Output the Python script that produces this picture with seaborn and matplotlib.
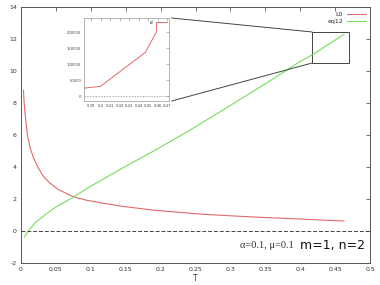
import numpy as np
import pandas as pd
import seaborn as sns
import matplotlib.pyplot as plt
from matplotlib.patches import Rectangle, ConnectionPatch

# data
t_l0 = [0.0035, 0.0045, 0.0057, 0.0075, 0.0096, 0.013, 0.0177, 0.024, 0.0315, 0.04,
        0.053, 0.0745, 0.094, 0.12, 0.142, 0.19, 0.256, 0.3, 0.35, 0.4, 0.463]
l0 = [8.8, 8.0, 7.4, 6.6, 5.9, 5.2, 4.6, 4.0, 3.45, 3.05,
      2.6, 2.15, 1.92, 1.72, 1.56, 1.3, 1.06, 0.95, 0.84, 0.75, 0.62]

t_eq = [0.0047, 0.0105, 0.02, 0.034, 0.05, 0.0745, 0.094, 0.12, 0.146, 0.19,
        0.242, 0.3, 0.35, 0.4, 0.417, 0.463]
eq12 = [-0.37, 0.0, 0.5, 1.0, 1.5, 2.1, 2.65, 3.3, 3.95, 5.0,
        6.3, 7.85, 9.2, 10.6, 11.0, 12.3]

t_f2 = [0.3826, 0.40, 0.447, 0.4584, 0.4588]
f2 = [25000, 31000, 137000, 200000, 230000]

x_ticks = [0, 0.05, 0.1, 0.15, 0.2, 0.25, 0.3, 0.35, 0.4, 0.45, 0.5]
x_labels = ["0", "0.05", "0.1", "0.15", "0.2", "0.25", "0.3", "0.35", "0.4", "0.45", "0.5"]
y_ticks = [-2, 0, 2, 4, 6, 8, 10, 12, 14]
ins_x_ticks = [0.39, 0.40, 0.41, 0.42, 0.43, 0.44, 0.45, 0.46, 0.47]
ins_x_labels = ["0.39", "0.4", "0.41", "0.42", "0.43", "0.44", "0.45", "0.46", "0.47"]
ins_y_ticks = [0, 50000, 100000, 150000, 200000]
zoom_box = (0.417, 0.470, 10.5, 12.44)

red = "#e06a6a"
green = "#74de5a"
frame = "#555555"

sns.set_style("white")
plt.rcParams["font.family"] = ["DejaVu Sans"]

fig = plt.figure(figsize=(3.8, 2.85), dpi=100)
ax = fig.add_axes([0.0553, 0.0772, 0.9184, 0.8982])

df_l0 = pd.DataFrame({"T": t_l0, "v": l0})
df_eq = pd.DataFrame({"T": t_eq, "v": eq12})
sns.lineplot(data=df_l0, x="T", y="v", ax=ax, color=red, lw=0.8, label="L0")
sns.lineplot(data=df_eq, x="T", y="v", ax=ax, color=green, lw=0.8, label="eq12")
ax.axhline(0, color="#444444", lw=0.7, ls=(0, (4, 2)))

ax.set_xlim(0, 0.5)
ax.set_ylim(-2, 14)
ax.set_xticks(x_ticks)
ax.set_xticklabels(x_labels)
ax.set_yticks(y_ticks)
ax.tick_params(direction="in", length=3, width=0.6, color=frame, labelsize=4.5,
               labelcolor="#333333", top=True, right=True, pad=3)
ax.set_yticklabels([str(v) for v in y_ticks])
for s in ax.spines.values():
    s.set_color(frame)
    s.set_linewidth(0.7)
ax.set_xlabel("T", fontsize=5.5, labelpad=1, color="#333333")
ax.set_ylabel("")

ax.legend(loc="upper right", frameon=False, fontsize=4.5, markerfirst=False,
          handlelength=3, handletextpad=0.6, labelspacing=0.3, borderaxespad=0.3)

ax.text(0.391, -0.9, "α=0.1, μ=0.1", family="Liberation Serif",
        fontsize=7.5, color="#333333", ha="right", va="center")
ax.text(0.4925, -0.9, "m=1, n=2", fontsize=9, color="#111111",
        ha="right", va="center")

# zoom box
x0, x1, y0, y1 = zoom_box
ax.add_patch(Rectangle((x0, y0), x1 - x0, y1 - y0, fill=False,
                       ec="#444444", lw=0.7))

# inset
axins = fig.add_axes([0.221, 0.6456, 0.224, 0.2912])
df_f2 = pd.DataFrame({"T": t_f2, "v": f2})
sns.lineplot(data=df_f2, x="T", y="v", ax=axins, color=red, lw=0.7, label="f2")
axins.axhline(0, color="#888888", lw=0.5, ls=(0, (2, 2)))
axins.set_xlim(0.3826, 0.4718)
axins.set_ylim(-15000, 244000)
axins.set_xticks(ins_x_ticks)
axins.set_xticklabels(ins_x_labels)
axins.set_yticks(ins_y_ticks)
axins.set_yticklabels([str(v) for v in ins_y_ticks])
axins.tick_params(direction="in", length=2, width=0.4, color="#888888",
                  labelsize=2.7, labelcolor="#444444", top=True, right=True, pad=2)
axins.set_xlabel("")
axins.set_ylabel("")
for s in axins.spines.values():
    s.set_color("#999999")
    s.set_linewidth(0.5)
axins.legend(loc="upper right", frameon=False, fontsize=3, markerfirst=False,
             handlelength=2.5, handletextpad=0.5, borderaxespad=0.2)

# connectors from inset to zoom box
for ya, yb in [(1.0, y1), (0.0, y0)]:
    con = ConnectionPatch(xyA=(1.03, ya), coordsA=axins.transAxes,
                          xyB=(x0, yb), coordsB=ax.transData,
                          color="#444444", lw=0.7)
    fig.add_artist(con)

fig.savefig("out.png", dpi=100)
